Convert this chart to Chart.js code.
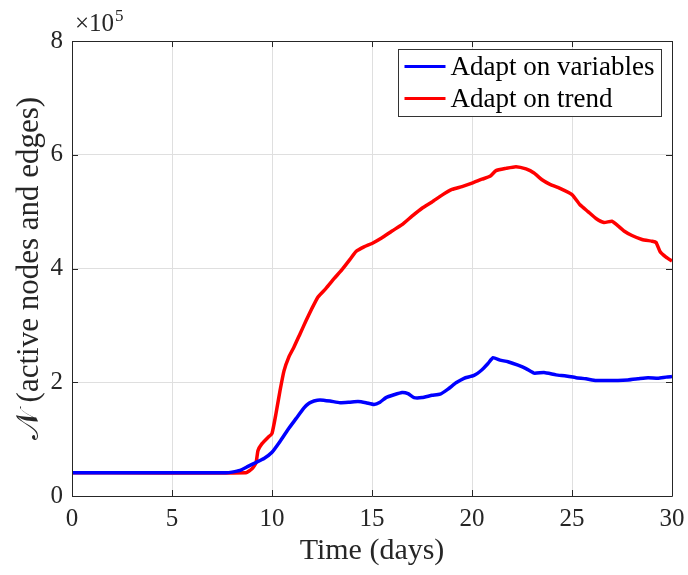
<!DOCTYPE html>
<html>
<head>
<meta charset="utf-8">
<script src="https://cdn.jsdelivr.net/npm/chart.js@4.4.0/dist/chart.umd.min.js"></script>
<style>
  html, body { margin: 0; padding: 0; background: #fff; }
  #wrap { width: 688px; height: 575px; }
</style>
</head>
<body>
<div id="wrap"><canvas id="chart" width="688" height="575"></canvas></div>
<script>
// ===================================
// DATA (values in units of 10^5)
// ===================================

const seriesLabels = ['Adapt on variables', 'Adapt on trend'];
const seriesColors = ['#0000ff', '#ff0000'];

const blueDays = [0, 7.7, 8.0, 8.4, 8.8, 9.2, 9.6, 10.0, 10.4, 10.8, 11.2, 11.6, 11.85, 12.1, 12.4, 12.9,
    13.4, 13.9, 14.3, 14.7, 15.1, 15.4, 15.7, 16.1, 16.5, 16.8, 17.1, 17.5, 18.0, 18.4, 18.8, 19.2,
    19.6, 20.1, 20.5, 20.8, 21.05, 21.4, 21.8, 22.3, 22.7, 23.1, 23.6, 24.2, 24.7, 25.2, 25.7, 26.2,
    26.8, 27.3, 27.8, 28.3, 28.8, 29.3, 29.7, 30];
const blueValues = [0.41, 0.41, 0.42, 0.45, 0.52, 0.59, 0.66, 0.77, 0.96, 1.17, 1.36, 1.55, 1.63, 1.67, 1.69, 1.67,
    1.64, 1.65, 1.66, 1.64, 1.61, 1.65, 1.73, 1.78, 1.82, 1.80, 1.73, 1.73, 1.77, 1.79, 1.88, 1.99,
    2.07, 2.12, 2.22, 2.33, 2.43, 2.39, 2.36, 2.30, 2.24, 2.16, 2.17, 2.13, 2.11, 2.08, 2.06, 2.03,
    2.03, 2.03, 2.04, 2.06, 2.08, 2.07, 2.09, 2.10];

const redDays = [0, 8.7, 9.0, 9.2, 9.3, 9.5, 9.8, 10.0, 10.2, 10.4, 10.6, 10.85, 11.1, 11.4, 11.7, 12.0,
    12.3, 12.7, 13.1, 13.5, 13.9, 14.2, 14.6, 15.0, 15.5, 16.0, 16.5, 17.0, 17.5, 18.0, 18.5, 19.0,
    19.5, 20.0, 20.5, 20.9, 21.2, 21.7, 22.2, 22.7, 23.1, 23.5, 23.9, 24.4, 25.0, 25.4, 25.8, 26.2,
    26.6, 27.0, 27.3, 27.6, 28.0, 28.5, 29.0, 29.2, 29.4, 29.7, 30];
const redValues = [0.41, 0.41, 0.48, 0.58, 0.80, 0.92, 1.03, 1.10, 1.45, 1.85, 2.20, 2.45, 2.62, 2.85, 3.08, 3.30,
    3.50, 3.65, 3.82, 3.98, 4.16, 4.30, 4.38, 4.44, 4.54, 4.66, 4.77, 4.92, 5.06, 5.17, 5.29, 5.39,
    5.44, 5.50, 5.57, 5.62, 5.72, 5.76, 5.79, 5.75, 5.68, 5.56, 5.48, 5.41, 5.30, 5.12, 5.00, 4.88,
    4.81, 4.83, 4.75, 4.66, 4.58, 4.51, 4.48, 4.46, 4.30, 4.20, 4.13];

const xTickStep = 5;
const yTickStep = 2;
const yExponentBase = '\u00d710';
const yExponent = '5';
const xTitle = 'Time (days)';
const yTitle = '\ud835\udca9 (active nodes and edges)';

// ===================================
// STYLE
// ===================================

const axisColor = '#262626';
const gridColor = '#dfdfdf';
const serif = "'Liberation Serif', 'DejaVu Serif', serif";

// MATLAB-like box with inward ticks, exponent label and boxed legend
const matlabAxes = {
    id: 'matlabAxes',
    afterDraw(chart) {
        const { ctx, chartArea: a, scales } = chart;
        const xs = scales.x, ys = scales.y;
        const tl = 6;
        ctx.save();
        ctx.strokeStyle = axisColor;
        ctx.lineWidth = 1;
        ctx.beginPath();
        ctx.rect(Math.round(a.left) + 0.5, Math.round(a.top) + 0.5,
            Math.round(a.right - a.left), Math.round(a.bottom - a.top));
        ctx.stroke();

        // inward ticks
        ctx.beginPath();
        xs.ticks.forEach(t => {
            const px = Math.round(xs.getPixelForValue(t.value)) + 0.5;
            ctx.moveTo(px, a.bottom); ctx.lineTo(px, a.bottom - tl);
            ctx.moveTo(px, a.top); ctx.lineTo(px, a.top + tl);
        });
        ys.ticks.forEach(t => {
            const py = Math.round(ys.getPixelForValue(t.value)) + 0.5;
            ctx.moveTo(a.left, py); ctx.lineTo(a.left + tl, py);
            ctx.moveTo(a.right, py); ctx.lineTo(a.right - tl, py);
        });
        ctx.stroke();

        // exponent label
        ctx.fillStyle = axisColor;
        ctx.textBaseline = 'alphabetic';
        ctx.textAlign = 'left';
        ctx.font = '25px ' + serif;
        ctx.fillText(yExponentBase, a.left + 3, a.top - 10);
        const w = ctx.measureText(yExponentBase).width;
        ctx.font = '17px ' + serif;
        ctx.fillText(yExponent, a.left + 4 + w, a.top - 20);

        // legend
        const bx = 398.5, by = 49.5, bw = 263, bh = 67;
        ctx.fillStyle = '#ffffff';
        ctx.fillRect(bx, by, bw, bh);
        ctx.strokeStyle = '#333333';
        ctx.strokeRect(bx, by, bw, bh);
        ctx.font = '27px ' + serif;
        ctx.textBaseline = 'middle';
        chart.data.datasets.forEach((ds, i) => {
            const ry = by + 17 + i * 32;
            ctx.strokeStyle = ds.borderColor;
            ctx.lineWidth = 3;
            ctx.beginPath();
            ctx.moveTo(bx + 6, ry);
            ctx.lineTo(bx + 47, ry);
            ctx.stroke();
            ctx.fillStyle = '#000000';
            ctx.fillText(ds.label, bx + 52, ry + 1);
        });
        ctx.restore();
    }
};

function toPoints(days, values) {
    return days.map((d, i) => ({ x: d, y: values[i] }));
}

new Chart(document.getElementById('chart'), {
    type: 'line',
    data: {
        datasets: [
            {
                label: seriesLabels[0],
                data: toPoints(blueDays, blueValues),
                borderColor: seriesColors[0],
                borderWidth: 3.5,
                pointRadius: 0,
                tension: 0.15,
                fill: false
            },
            {
                label: seriesLabels[1],
                data: toPoints(redDays, redValues),
                borderColor: seriesColors[1],
                borderWidth: 3.5,
                pointRadius: 0,
                tension: 0.15,
                fill: false
            }
        ]
    },
    options: {
        responsive: false,
        animation: false,
        devicePixelRatio: 1,
        layout: { padding: { top: 41, right: 16, left: 0, bottom: 0 } },
        plugins: {
            legend: { display: false },
            tooltip: { enabled: false }
        },
        scales: {
            x: {
                type: 'linear',
                min: 0,
                max: 30,
                afterFit: s => { s.height = 79; s.paddingRight = 0; s.paddingLeft = 0; },
                ticks: {
                    stepSize: xTickStep,
                    color: axisColor,
                    padding: 8,
                    maxRotation: 0,
                    font: { family: serif, size: 25 }
                },
                grid: { color: gridColor, drawTicks: false },
                border: { display: false },
                title: {
                    display: true,
                    text: xTitle,
                    color: axisColor,
                    padding: { top: 0, bottom: 6 },
                    font: { family: serif, size: 30 }
                }
            },
            y: {
                min: 0,
                max: 8,
                afterFit: s => { s.width = 72; s.paddingTop = 0; s.paddingBottom = 0; },
                ticks: {
                    stepSize: yTickStep,
                    color: axisColor,
                    padding: 9,
                    font: { family: serif, size: 25 }
                },
                grid: { color: gridColor, drawTicks: false },
                border: { display: false },
                title: {
                    display: true,
                    text: yTitle,
                    color: axisColor,
                    padding: { top: 11, bottom: 0 },
                    font: { family: serif, size: 31 }
                }
            }
        }
    },
    plugins: [matlabAxes]
});
</script>
</body>
</html>
